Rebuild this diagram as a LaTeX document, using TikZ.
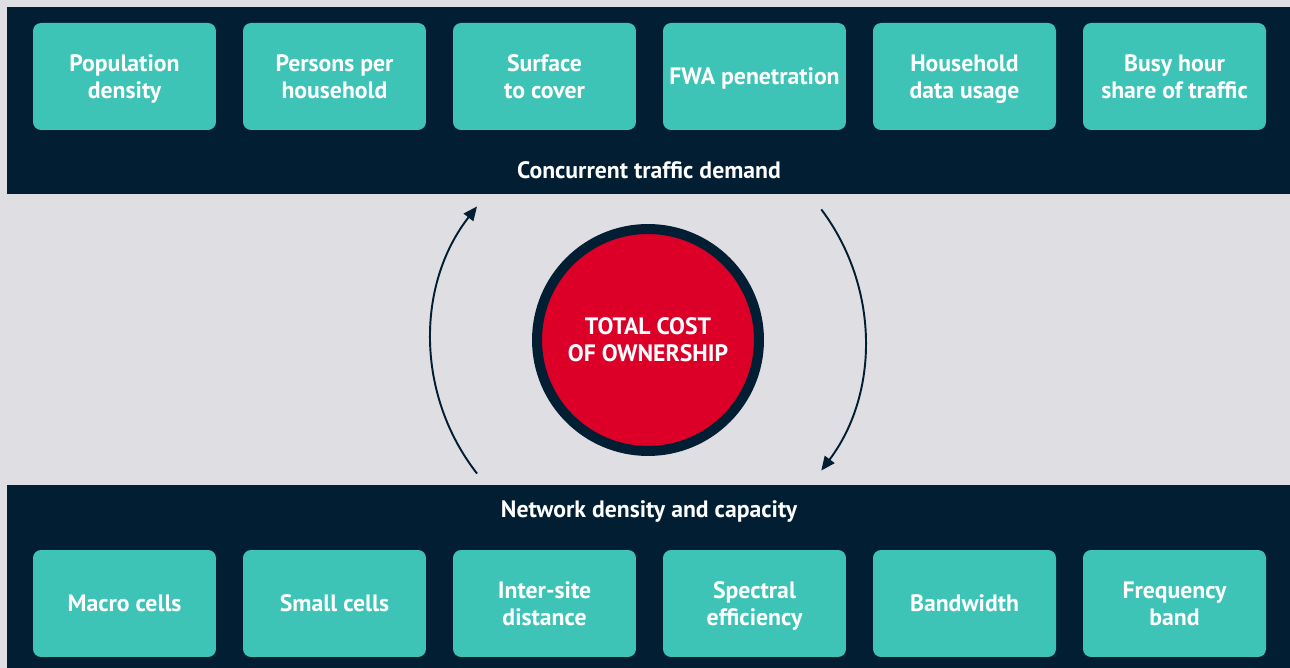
\documentclass[tikz,border=0pt]{standalone}
\usepackage{fontspec}
\setmainfont{PT Sans}
\usetikzlibrary{arrows.meta}
\definecolor{navy}{HTML}{011E33}
\definecolor{aqua}{HTML}{3EC3B7}
\definecolor{tcored}{HTML}{DC0029}
\definecolor{paper}{HTML}{DFDEE3}

\begin{document}
\begin{tikzpicture}[x=0.02cm, y=0.02cm,
    box/.style={fill=aqua, rounded corners=0.16cm, minimum width=3.66cm, minimum height=2.14cm,
      inner sep=0pt, text=white, align=center, text height=24.7pt, text depth=0pt,
      font=\fontsize{13.5}{15.3}\selectfont\bfseries},
    onebox/.style={box, text height=9.4pt},
    band/.style={text=white, text height=9.4pt, text depth=0pt, font=\fontsize{13.5}{15.3}\selectfont\bfseries},
    flow/.style={draw=navy, line width=1.1pt, -{Triangle[length=0.28cm, width=0.24cm]}}]
    % background and bands
    \fill[paper] (0, 0) rectangle (1290, 668);
    \fill[navy] (7, 474) rectangle (1290, 661);
    \fill[navy] (7, 0) rectangle (1290, 183);
    % demand drivers
    \node[box] (a) at (124.5, 591.5) {Population\\density};
    \node[box] (b) at (334.5, 591.5) {Persons per\\household};
    \node[box] (c) at (544.5, 591.5) {Surface\\to cover};
    \node[onebox] (d) at (754.5, 591.5) {FWA penetration};
    \node[box] (e) at (964.5, 591.5) {Household\\data usage};
    \node[box] (f) at (1174.5, 591.5) {Busy hour\\share of traffic};
    \node[band] (g) at (649, 498) {Concurrent traffic demand};
    % network levers
    \node[band] (h) at (649, 159) {Network density and capacity};
    \node[onebox] (i) at (124.5, 64.5) {Macro cells};
    \node[onebox] (j) at (334.5, 64.5) {Small cells};
    \node[box] (k) at (544.5, 64.5) {Inter-site\\distance};
    \node[box] (l) at (754.5, 64.5) {Spectral\\efficiency};
    \node[onebox] (m) at (964.5, 64.5) {Bandwidth};
    \node[box] (n) at (1174.5, 64.5) {Frequency\\band};
    % centre
    \node[circle, fill=tcored, draw=navy, line width=0.2cm, minimum size=4.44cm, text=white,
      align=center, text height=24.7pt, text depth=0pt,
      font=\fontsize{13.5}{15.3}\selectfont\bfseries] (o) at (648, 328) {TOTAL COST\\OF OWNERSHIP};
    \path (o.center) ++(218:4.34cm) coordinate (la);
    \path (o.center) ++(37:4.34cm) coordinate (ra);
    \draw[flow] (la) arc[start angle=218, end angle=142, radius=4.34cm];
    \draw[flow] (ra) arc[start angle=37, end angle=-37, radius=4.34cm];
\end{tikzpicture}
\end{document}
